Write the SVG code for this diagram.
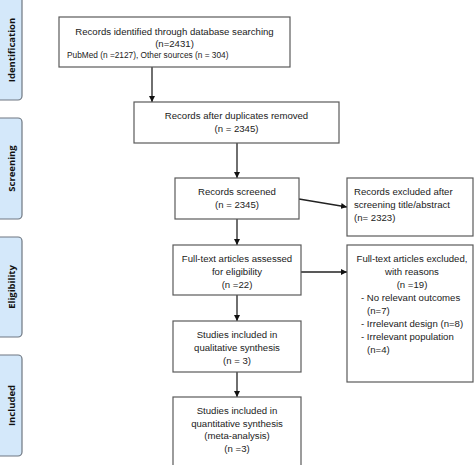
<svg xmlns="http://www.w3.org/2000/svg" width="474" height="465" viewBox="0 0 474 465">
<style>
.box{fill:#fff;stroke:#5a5a5a;stroke-width:1.2}
.lab{fill:#d4e8fa;stroke:#6e7781;stroke-width:1.2}
.t{font-family:"Liberation Sans",Arial,sans-serif;font-size:9.6px;fill:#222}
.c{text-anchor:middle}
.s{font-family:"Liberation Sans",Arial,sans-serif;font-size:8.3px;fill:#222}
.v{font-family:"Open Sans","Liberation Sans",sans-serif;font-size:9.5px;font-weight:bold;fill:#111;text-anchor:middle}
.ln{stroke:#222;stroke-width:1.3;fill:none;marker-end:url(#ah)}
</style>
<defs>
<marker id="ah" viewBox="0 0 6 6" refX="6" refY="3" markerWidth="6" markerHeight="6" markerUnits="userSpaceOnUse" orient="auto">
<path d="M0,0 L6,3 L0,6 Z" fill="#111"/>
</marker>
</defs>
<rect width="474" height="465" fill="#fff"/>
<g id="stage-identification"><rect class="lab" x="-6" y="-8" width="28" height="108" rx="4"/><text class="v" transform="translate(15,50) rotate(-90)">Identification</text></g>
<g id="stage-screening"><rect class="lab" x="-6" y="118" width="28" height="101" rx="4"/><text class="v" transform="translate(15,168.5) rotate(-90)">Screening</text></g>
<g id="stage-eligibility"><rect class="lab" x="-6" y="237" width="28" height="100" rx="4"/><text class="v" transform="translate(15,287) rotate(-90)">Eligibility</text></g>
<g id="stage-included"><rect class="lab" x="-6" y="355" width="28" height="101" rx="4"/><text class="v" transform="translate(15,405.5) rotate(-90)">Included</text></g>

<g id="connectors">
<line class="ln" x1="152" y1="67" x2="152" y2="102"/>
<line class="ln" x1="237" y1="143" x2="237" y2="178"/>
<line class="ln" x1="299" y1="199" x2="347" y2="207"/>
<line class="ln" x1="237" y1="219" x2="237" y2="245"/>
<line class="ln" x1="300" y1="272" x2="347" y2="272"/>
<line class="ln" x1="237" y1="295" x2="237" y2="321"/>
<line class="ln" x1="237" y1="372" x2="237" y2="397"/>
</g>

<g id="n1"><rect class="box" x="59" y="17" width="231" height="50"/>
<text class="t c" x="174.5" y="35">Records identified through database searching</text>
<text class="t c" x="174.5" y="47">(n=2431)</text>
<text class="s" x="67" y="58">PubMed (n =2127), Other sources (n = 304)</text></g>

<g id="n2"><rect class="box" x="134" y="102" width="205" height="41"/>
<text class="t c" x="236.5" y="119">Records after duplicates removed</text>
<text class="t c" x="236.5" y="132">(n = 2345)</text></g>

<g id="n3"><rect class="box" x="175" y="178" width="124" height="41"/>
<text class="t c" x="237" y="194.5">Records screened</text>
<text class="t c" x="237" y="207.5">(n = 2345)</text></g>

<g id="n4"><rect class="box" x="347" y="178" width="126" height="58"/>
<text class="t" x="354" y="194.5">Records excluded after</text>
<text class="t" x="354" y="207.5">screening title/abstract</text>
<text class="t" x="354" y="220.5">(n= 2323)</text></g>

<g id="n5"><rect class="box" x="173" y="245" width="128" height="50"/>
<text class="t c" x="237" y="261.5">Full-text articles assessed</text>
<text class="t c" x="237" y="274.5">for eligibility</text>
<text class="t c" x="237" y="287.5">(n =22)</text></g>

<g id="n6"><rect class="box" x="347" y="245" width="126" height="137"/>
<text class="t c" x="412" y="261.5">Full-text articles excluded,</text>
<text class="t c" x="412" y="274.5">with reasons</text>
<text class="t c" x="412" y="287.5">(n =19)</text>
<text class="t" x="361" y="300.5">- No relevant outcomes</text>
<text class="t" x="367" y="313.5">(n=7)</text>
<text class="t" x="361" y="326.5">- Irrelevant design (n=8)</text>
<text class="t" x="361" y="339.5">- Irrelevant population</text>
<text class="t" x="367" y="352.5">(n=4)</text></g>

<g id="n7"><rect class="box" x="173" y="321" width="128" height="51"/>
<text class="t c" x="237" y="337.5">Studies included in</text>
<text class="t c" x="237" y="350.5">qualitative synthesis</text>
<text class="t c" x="237" y="363.5">(n = 3)</text></g>

<g id="n8"><rect class="box" x="173" y="397" width="128" height="80"/>
<text class="t c" x="237" y="414">Studies included in</text>
<text class="t c" x="237" y="426.5">quantitative synthesis</text>
<text class="t c" x="237" y="439">(meta-analysis)</text>
<text class="t c" x="237" y="452">(n =3)</text></g>
</svg>
